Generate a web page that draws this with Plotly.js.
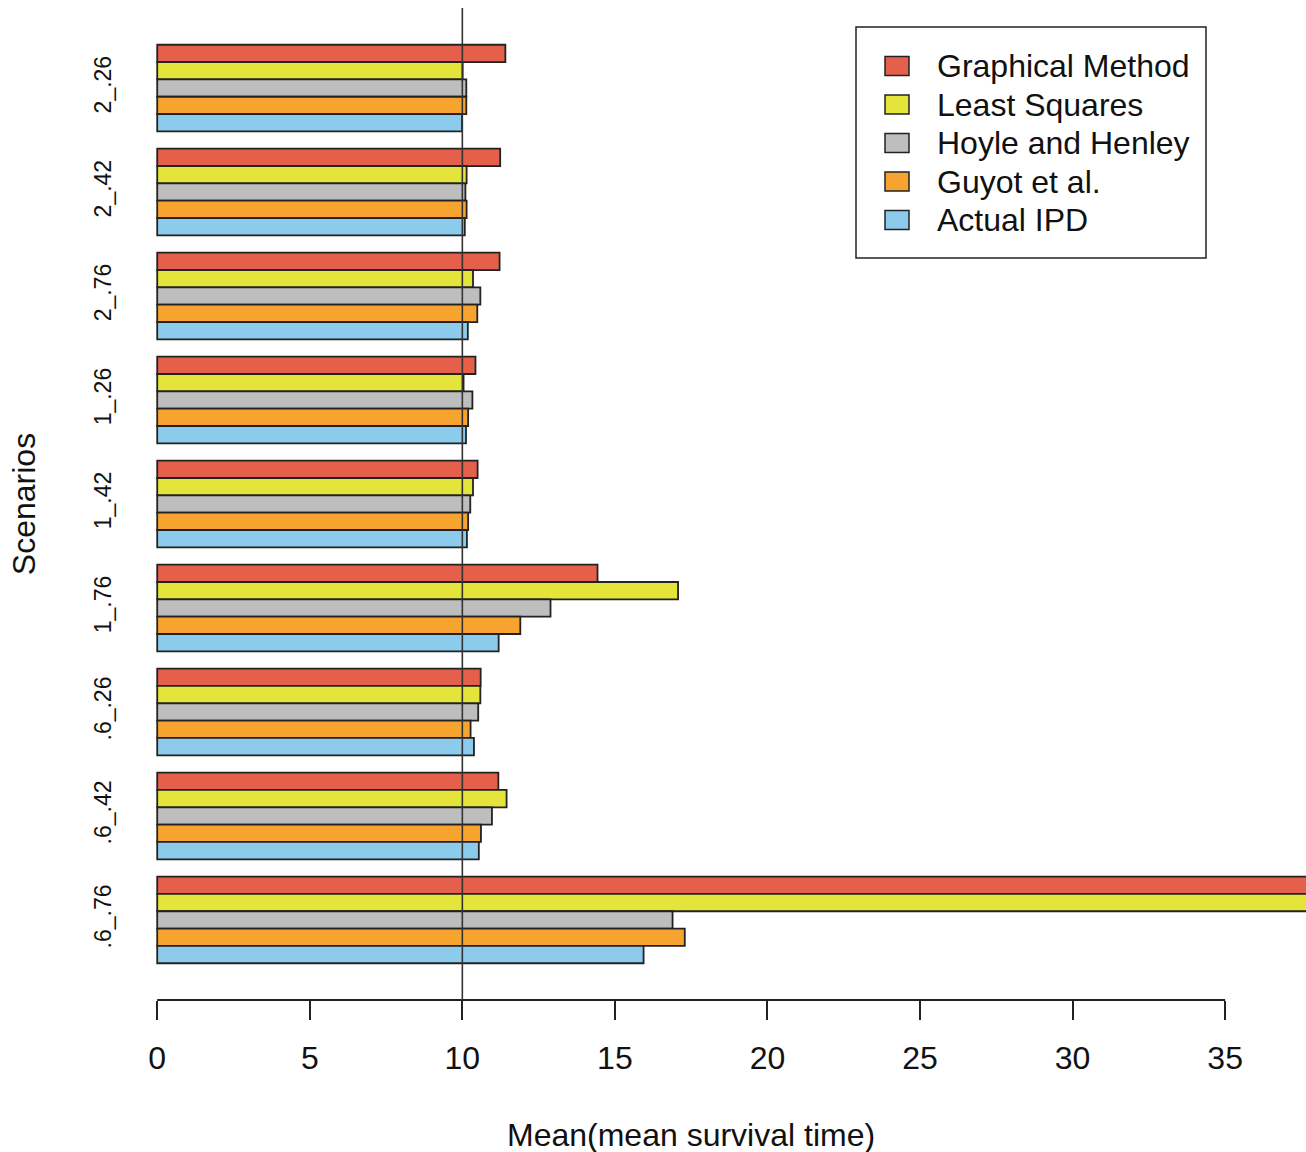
<!DOCTYPE html>
<html>
<head>
<meta charset="utf-8">
<script src="https://cdn.plot.ly/plotly-3.0.1.min.js"></script>
<style>html,body{margin:0;padding:0;background:#fff;}#chart{width:1306px;height:1152px;}</style>
</head>
<body>
<div id="chart"></div>
<script>
var categories = ['2_.26','2_.42','2_.76','1_.26','1_.42','1_.76','.6_.26','.6_.42','.6_.76'];
var seriesNames = ['Graphical Method','Least Squares','Hoyle and Henley','Guyot et al.','Actual IPD'];
var graphicalMethod = [11.41, 11.24, 11.22, 10.43, 10.50, 14.43, 10.60, 11.18, 40.2];
var leastSquares    = [10.01, 10.14, 10.35, 10.04, 10.35, 17.07, 10.59, 11.45, 39.6];
var hoyleHenley     = [10.13, 10.10, 10.59, 10.33, 10.26, 12.89, 10.52, 10.97, 16.89];
var guyot           = [10.13, 10.14, 10.49, 10.19, 10.19, 11.90, 10.27, 10.61, 17.29];
var actualIPD       = [9.99, 10.08, 10.18, 10.12, 10.15, 11.19, 10.38, 10.54, 15.94];
var xTicks = [0, 5, 10, 15, 20, 25, 30, 35];
var refLine = 10;

var colors = ['#E5604B', '#E4E43A', '#BEBEBE', '#F6A42F', '#8CCBEC'];
var values = [graphicalMethod, leastSquares, hoyleHenley, guyot, actualIPD];
var FONT = 'Liberation Sans, Arial, Helvetica, sans-serif';

// pixel helpers for placing legend / title in paper space
var L = 156, W = 1150, T = 8, H = 992;
function px(x) { return (x - L) / W; }
function py(y) { return (T + H - y) / H; }

var traces = values.map(function (v, i) {
  return {
    type: 'bar', orientation: 'h', name: seriesNames[i],
    x: v, y: categories,
    marker: { color: colors[i], line: { color: '#222', width: 1.8 } },
    hoverinfo: 'x+name', showlegend: false
  };
});

var shapes = [
  { type: 'line', xref: 'x', yref: 'paper', x0: xTicks[0], x1: xTicks[xTicks.length - 1], y0: 0, y1: 0,
    line: { color: '#222', width: 2 } },
  { type: 'line', xref: 'x', yref: 'paper', x0: refLine, x1: refLine, y0: 0, y1: 1,
    line: { color: '#333', width: 1.6 } },
  { type: 'rect', xref: 'paper', yref: 'paper', x0: px(856), x1: px(1206), y0: py(258), y1: py(27),
    fillcolor: '#fff', line: { color: '#222', width: 1.5 } }
];
var annotations = [
  { text: 'Mean(mean survival time)', xref: 'paper', yref: 'paper',
    x: px(691), y: py(1135), xanchor: 'center', yanchor: 'middle',
    showarrow: false, font: { family: FONT, size: 32, color: '#111' } }
];
var legendY = [66, 104.5, 143, 181.5, 220];
seriesNames.forEach(function (name, i) {
  var cy = legendY[i];
  shapes.push({ type: 'rect', xref: 'paper', yref: 'paper',
    x0: px(885), x1: px(909), y0: py(cy + 9.5), y1: py(cy - 9.5),
    fillcolor: colors[i], line: { color: '#222', width: 1.5 } });
  annotations.push({ text: name, xref: 'paper', yref: 'paper',
    x: px(935), y: py(cy), xanchor: 'left', yanchor: 'middle',
    showarrow: false, font: { family: FONT, size: 32, color: '#111' } });
});

var layout = {
  width: 1306, height: 1152,
  margin: { l: L, r: 0, t: T, b: 152, pad: 0 },
  paper_bgcolor: '#fff', plot_bgcolor: '#fff',
  font: { family: FONT, color: '#111', size: 32 },
  barmode: 'group', bargap: 1 / 6, bargroupgap: 0,
  showlegend: false,
  xaxis: {
    range: [-0.04, 37.65], autorange: false,
    tickvals: xTicks, ticktext: xTicks.map(String),
    ticks: 'outside', ticklen: 19, tickwidth: 2, tickcolor: '#222',
    ticklabelstandoff: 11,
    showline: false, showgrid: false, zeroline: false,
    tickfont: { family: FONT, size: 32, color: '#111' },
    fixedrange: true
  },
  yaxis: {
    type: 'category', categoryorder: 'array', categoryarray: categories,
    range: [8.77, -0.77], autorange: false,
    ticks: '', tickangle: -90, ticklabelstandoff: 39,
    showline: false, showgrid: false, zeroline: false,
    tickfont: { family: FONT, size: 23, color: '#111' },
    title: { text: 'Scenarios', font: { family: FONT, size: 32, color: '#111' }, standoff: 45 },
    fixedrange: true
  },
  shapes: shapes,
  annotations: annotations
};

Plotly.newPlot('chart', traces, layout, { displayModeBar: false, staticPlot: true });
</script>
</body>
</html>
